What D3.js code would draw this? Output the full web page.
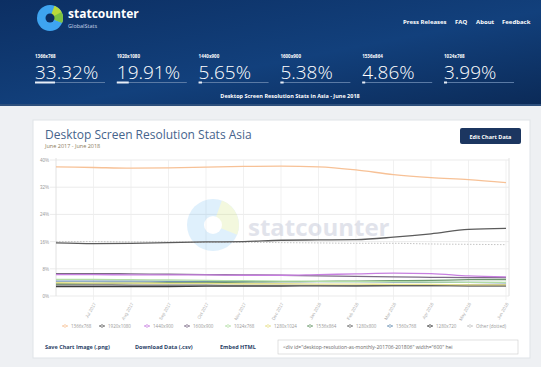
<!DOCTYPE html>
<html>
<head>
<meta charset="utf-8">
<script src="https://cdn.jsdelivr.net/npm/d3@7"></script>
<style>
  body { margin: 0; background: #eef0f3; }
  svg { display: block; font-family: "Open Sans", "Noto Sans", sans-serif; }
</style>
</head>
<body>
<div id="wall"></div>
<script>
// data
const months = ["Jun 2017","Jul 2017","Aug 2017","Sep 2017","Oct 2017","Nov 2017","Dec 2017",
  "Jan 2018","Feb 2018","Mar 2018","Apr 2018","May 2018","Jun 2018"];
const seriesNames = ["1366x768","1920x1080","1440x900","1600x900","1024x768","1280x1024",
  "1536x864","1280x800","1360x768","1280x720","Other (dotted)"];
const seriesColors = ["#f7c196","#5b5b5b","#c77fe0","#7b6a85","#b3dea6","#e6e08a",
  "#6d9a6d","#6a6a6a","#6f93b5","#3c3c3c","#c4c4c4"];
const v1366 = [38.0,37.8,37.6,37.7,37.9,38.1,38.2,38.0,37.1,35.7,34.8,34.2,33.32];
const v1920 = [15.6,15.4,15.5,15.7,15.9,16.0,16.4,16.5,16.6,17.3,18.3,19.6,19.91];
const v1440 = [6.3,6.3,6.2,6.2,6.2,6.1,6.1,6.3,6.5,6.7,6.6,5.9,5.65];
const v1600 = [6.6,6.6,6.5,6.4,6.3,6.2,6.1,5.9,5.8,5.6,5.5,5.4,5.38];
const v1024 = [4.9,4.9,4.8,4.7,4.6,4.5,4.4,4.3,4.2,4.2,4.1,4.0,3.99];
const v1280x1024 = [3.9,3.8,3.8,3.7,3.7,3.6,3.6,3.5,3.5,3.4,3.4,3.3,3.3];
const v1536 = [3.6,3.7,3.8,3.9,4.0,4.1,4.2,4.3,4.4,4.5,4.6,4.8,4.86];
const v1280x800 = [3.3,3.3,3.2,3.2,3.2,3.1,3.1,3.1,3.0,3.0,3.0,2.9,2.9];
const v1360 = [4.4,4.4,4.4,4.3,4.3,4.3,4.2,4.2,4.2,4.1,4.0,4.0,3.9];
const v1280x720 = [2.8,2.8,2.8,2.8,2.9,2.9,2.9,3.0,3.0,3.1,3.1,3.2,3.2];
const vOther = [16.0,16.0,15.9,15.9,15.8,15.8,15.7,15.6,15.5,15.5,15.3,15.2,15.1];
const allValues = [v1366,v1920,v1440,v1600,v1024,v1280x1024,v1536,v1280x800,v1360,v1280x720,vOther];
const yTicks = [0,8,16,24,32,40];

// header stats
const statLabels = ["1366x768","1920x1080","1440x900","1600x900","1536x864","1024x768"];
const statValues = [33.32,19.91,5.65,5.38,4.86,3.99];
const navLinks = ["Press Releases","FAQ","About","Feedback"];
const legendNames = ["1366x768","1920x1080","1440x900","1600x900","1024x768","1280x1024",
  "1536x864","1280x800","1360x768","1280x720","Other (dotted)"];

const width = 541, height = 367;
const svg = d3.select("#wall").append("svg").attr("width", width).attr("height", height);

// ---- header band
const defs = svg.append("defs");
const grad = defs.append("linearGradient").attr("id","hdr").attr("x1","0").attr("y1","0").attr("x2","1").attr("y2","1");
grad.append("stop").attr("offset","0%").attr("stop-color","#0c2f63");
grad.append("stop").attr("offset","55%").attr("stop-color","#12407c");
grad.append("stop").attr("offset","100%").attr("stop-color","#0b2a57");
svg.append("rect").attr("width", width).attr("height", 106).attr("fill","url(#hdr)");
svg.append("rect").attr("y",104).attr("width", width).attr("height", 2).attr("fill","#2d4f7c");

// logo
const logo = svg.append("g").attr("transform","translate(50,18)");
logo.append("circle").attr("r",13).attr("fill","#3ea4f0");
logo.append("path").attr("d", d3.arc()({innerRadius:4, outerRadius:13, startAngle:0.35, endAngle:1.95})).attr("fill","#b9d93a");
logo.append("path").attr("d", d3.arc()({innerRadius:4, outerRadius:13, startAngle:1.1, endAngle:1.95})).attr("fill","#7cc242");
logo.append("circle").attr("r",4.5).attr("fill","#0c2f63");
svg.append("text").attr("x",68).attr("y",18).attr("fill","#fff").attr("font-size",12).attr("font-weight",700).text("statcounter");
svg.append("text").attr("x",68).attr("y",27.5).attr("fill","#c9d6ea").attr("font-size",5.5).text("GlobalStats");

const navX = [403,455,476,502];
svg.selectAll(".nav").data(navLinks).join("text")
  .attr("x",(d,i)=>navX[i]).attr("y",24).attr("fill","#fff")
  .attr("font-size",6).attr("font-weight",700).text(d=>d);

// stat columns
const statX = d3.scaleLinear().domain([0,5]).range([35,444]);
const stat = svg.selectAll(".stat").data(statLabels).join("g")
  .attr("transform",(d,i)=>`translate(${statX(i)},0)`);
stat.append("text").attr("y",58).attr("fill","#fff").attr("font-size",4.5).attr("font-weight",700).text(d=>d);
stat.append("text").attr("y",79).attr("fill","#fff").attr("font-size",19).attr("font-weight",300)
  .text((d,i)=>statValues[i].toFixed(2)+"%");
stat.append("rect").attr("y",82).attr("width",70).attr("height",1).attr("fill","#5a7aa5");
stat.append("rect").attr("y",81.5).attr("width",(d,i)=>Math.max(3, statValues[i]*0.6)).attr("height",2).attr("fill","#e8eef7");
svg.append("text").attr("x",290).attr("y",98).attr("text-anchor","middle").attr("fill","#fff")
  .attr("font-size",5.5).attr("font-weight",700).text("Desktop Screen Resolution Stats in Asia - June 2018");

// ---- card
svg.append("rect").attr("x",33).attr("y",120).attr("width",497).attr("height",238)
  .attr("fill","#fff").attr("stroke","#dfe3e8");
svg.append("text").attr("x",45).attr("y",139).attr("fill","#46648c").attr("font-size",12).text("Desktop Screen Resolution Stats Asia");
svg.append("text").attr("x",45).attr("y",148).attr("fill","#8a7a5a").attr("font-size",5.5).text("June 2017 - June 2018");
svg.append("rect").attr("x",460).attr("y",128).attr("width",61).attr("height",16).attr("rx",2).attr("fill","#1c3660");
svg.append("text").attr("x",490.5).attr("y",138.5).attr("text-anchor","middle").attr("fill","#fff")
  .attr("font-size",5.5).attr("font-weight",700).text("Edit Chart Data");

// ---- chart
const x = d3.scalePoint().domain(months).range([56,506]);
const y = d3.scaleLinear().domain([0,40]).range([296,160]);
const chart = svg.append("g");

chart.append("g").selectAll("line").data(yTicks).join("line")
  .attr("x1",50).attr("x2",509).attr("y1",d=>y(d)).attr("y2",d=>y(d))
  .attr("stroke","#e6e6e6").attr("stroke-width",0.8);
chart.append("g").selectAll("line").data(months.slice(1)).join("line")
  .attr("x1",d=>x(d)).attr("x2",d=>x(d)).attr("y1",160).attr("y2",300)
  .attr("stroke","#eeeeee").attr("stroke-width",0.8);
chart.append("line").attr("x1",56).attr("x2",56).attr("y1",158).attr("y2",296).attr("stroke","#e2e2e2");
chart.append("line").attr("x1",509).attr("x2",509).attr("y1",158).attr("y2",296).attr("stroke","#e2e2e2");

const yAxis = chart.append("g").attr("transform","translate(52,0)")
  .call(d3.axisLeft(y).tickValues(yTicks).tickSize(0).tickFormat(d=>d+"%"));
yAxis.select(".domain").remove();
yAxis.selectAll("text").attr("fill","#999").attr("font-size",4.5);

const xAxis = chart.append("g").attr("transform","translate(0,299)")
  .call(d3.axisBottom(x).tickValues(months.slice(1)).tickSize(0));
xAxis.select(".domain").remove();
xAxis.selectAll("text").attr("fill","#b0b0b0").attr("font-size",4.5)
  .attr("text-anchor","end").attr("dy","0.3em")
  .attr("transform","rotate(-60)translate(-3,0)");

// watermark
const wm = chart.append("g").attr("transform","translate(213,225)").attr("opacity",0.16);
wm.append("circle").attr("r",26).attr("fill","#3ea4f0");
wm.append("path").attr("d", d3.arc()({innerRadius:8, outerRadius:26, startAngle:0.35, endAngle:1.95})).attr("fill","#b9d93a");
wm.append("circle").attr("r",9).attr("fill","#fff");
chart.append("text").attr("x",248).attr("y",236).attr("fill","#c5c9d8").attr("opacity",0.5)
  .attr("font-size",24).attr("font-weight",700).text("statcounter");

// lines, draw from the back (Other first)
const line = d3.line().x((d,i)=>x(months[i])).y(d=>y(d)).curve(d3.curveMonotoneX);
const order = d3.range(allValues.length).reverse();
chart.append("g").selectAll("path").data(order).join("path")
  .attr("d",i=>line(allValues[i]))
  .attr("fill","none")
  .attr("stroke",i=>seriesColors[i])
  .attr("stroke-width",i=>i===10 ? 1 : 1.3)
  .attr("stroke-dasharray",i=>i===10 ? "1.5,1.5" : null);

// legend
const legX = [65,102,147,187,228,268,310,350,390,430,470];
const leg = chart.append("g").selectAll("g").data(legendNames).join("g")
  .attr("transform",(d,i)=>`translate(${legX[i]},326)`);
leg.append("line").attr("x1",-3).attr("x2",3).attr("stroke",(d,i)=>seriesColors[i]).attr("stroke-width",1);
leg.append("circle").attr("r",1.3).attr("fill","#fff").attr("stroke",(d,i)=>seriesColors[i]).attr("stroke-width",0.7);
leg.append("text").attr("x",6).attr("y",1.6).attr("fill","#999").attr("font-size",4.5).text(d=>d);

// footer links
const footLinks = ["Save Chart Image (.png)","Download Data (.csv)","Embed HTML"];
const footX = [45,135,220];
svg.selectAll(".foot").data(footLinks).join("text")
  .attr("x",(d,i)=>footX[i]).attr("y",349).attr("fill","#2a3f66")
  .attr("font-size",5.5).attr("font-weight",700).text(d=>d);
svg.append("rect").attr("x",278).attr("y",340).attr("width",240).attr("height",14)
  .attr("fill","#fff").attr("stroke","#ccc").attr("stroke-width",0.6);
svg.append("text").attr("x",283).attr("y",349).attr("fill","#666").attr("font-size",5)
  .text('<div id="desktop-resolution-as-monthly-201706-201806" width="600" hei');
</script>
</body>
</html>
